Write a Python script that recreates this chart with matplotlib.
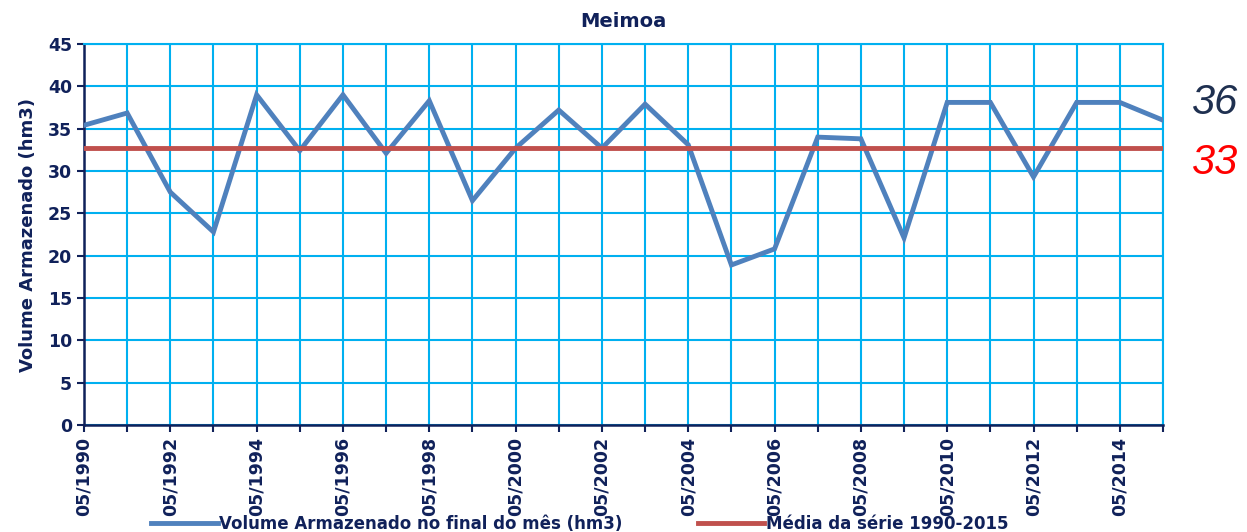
import matplotlib
matplotlib.use("Agg")
import matplotlib.pyplot as plt
import numpy as np

years = list(range(1990, 2016))
volume = [35.4, 36.85, 27.5, 22.8, 39.0, 32.4, 39.0, 32.1, 38.3, 26.5,
          32.7, 37.2, 32.7, 37.9, 33.1, 18.9, 20.8, 34.0, 33.8, 22.1,
          38.1, 38.1, 29.3, 38.1, 38.1, 36.0]
mean_value = 32.7
tick_years = list(range(1990, 2016, 2))
title = "Meimoa"
ylabel = "Volume Armazenado (hm3)"
series_label = "Volume Armazenado no final do mês (hm3)"
mean_label = "Média da série 1990-2015"
last_label = "36"
mean_text = "33"

navy = "#10215a"
grid_c = "#00b0f0"
plt.rcParams['font.family'] = ['DejaVu Sans']
plt.rcParams['font.weight'] = 'bold'

fig = plt.figure(figsize=(12.47, 5.32), dpi=100)
ax = fig.add_axes([84/1247, 1-425/532, (1163-84)/1247, (425-44)/532])

ax.plot(years, volume, color="#4f81bd", lw=3.5, label=series_label, zorder=3, solid_joinstyle='miter')
ax.plot([years[0], years[-1]], [mean_value, mean_value], color="#c0504d", lw=3.5, label=mean_label, zorder=3)

ax.set_xlim(1990, 2015)
ax.set_ylim(0, 45)
ax.set_yticks(range(0, 46, 5))
ax.set_xticks(years)
ax.set_xticklabels([f"05/{y}" if y in tick_years else "" for y in years], rotation=90, fontsize=12.5, color=navy, fontweight='bold')
ax.tick_params(axis='y', labelsize=12.5, labelcolor=navy, color=navy, length=5, width=1.5)
ax.tick_params(axis='x', color=navy, length=5, width=1.5)
for lbl in ax.get_yticklabels():
    lbl.set_fontweight('bold')
ax.grid(True, color=grid_c, lw=1.5, zorder=1)
ax.set_axisbelow(True)
for s in ['top', 'right']:
    ax.spines[s].set_color(grid_c)
    ax.spines[s].set_linewidth(1.5)
for s in ['left', 'bottom']:
    ax.spines[s].set_color(navy)
    ax.spines[s].set_linewidth(1.8)

ax.set_title(title, fontsize=14, fontweight='bold', color=navy, pad=12)
ax.set_ylabel(ylabel, fontsize=13, fontweight='bold', color=navy, labelpad=8)

ax.text(1.026, 38.0, last_label, transform=ax.get_yaxis_transform(), fontsize=30,
        style='italic', color="#1f3050", ha='left', va='center', family=['Liberation Sans', 'DejaVu Sans'], fontweight='normal')
ax.text(1.026, 30.9, mean_text, transform=ax.get_yaxis_transform(), fontsize=30,
        style='italic', color="#ff0000", ha='left', va='center', family=['Liberation Sans', 'DejaVu Sans'], fontweight='normal')

leg = fig.legend(loc='lower center', bbox_to_anchor=(0.465, -0.03), ncol=2, frameon=False,
                 fontsize=12, handlelength=4, columnspacing=4.5, handletextpad=0.1)
for t in leg.get_texts():
    t.set_color(navy)
    t.set_fontweight('bold')

fig.savefig("out.png", dpi=100)
